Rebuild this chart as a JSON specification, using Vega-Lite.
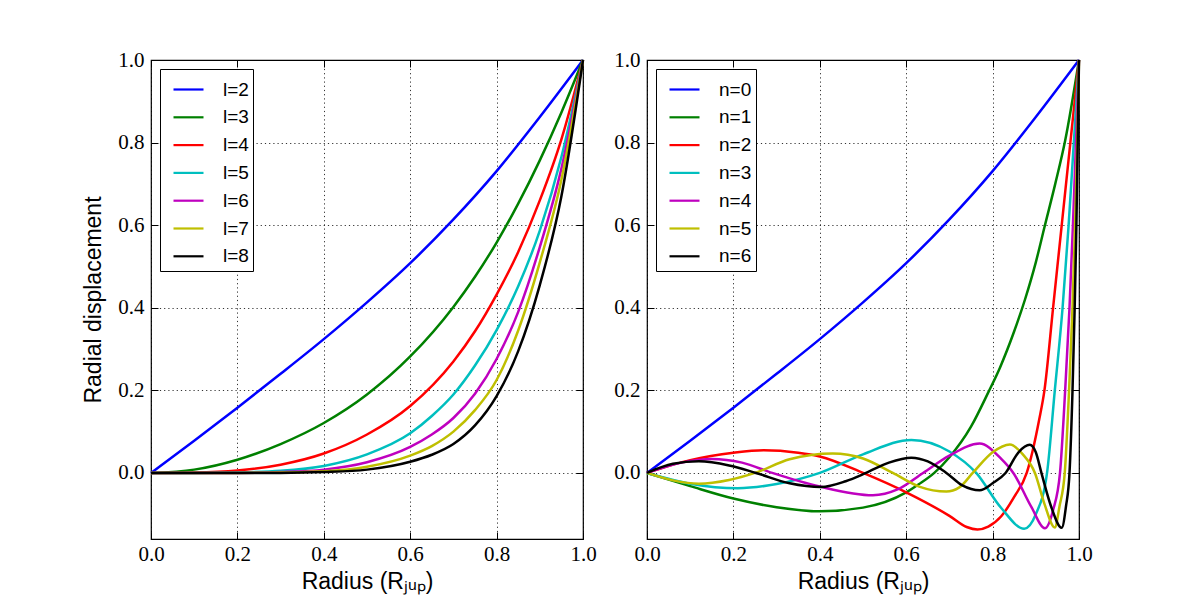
{
  "$schema": "https://vega.github.io/schema/vega-lite/v6.json",
  "padding": {"left": 82, "top": 48, "right": 5, "bottom": 5},
  "background": "white",
  "config": {
    "view": {"stroke": "black", "strokeWidth": 1.2},
    "axis": {
      "labelFont": "Liberation Serif", "labelFontSize": 21, "labelColor": "black", "labelFlush": false,
      "titleFont": "Liberation Sans", "titleFontSize": 23, "titleFontWeight": "normal", "titleColor": "black",
      "domain": false, "tickColor": "black", "tickSize": -7, "tickWidth": 1,
      "gridColor": "black", "gridDash": [1.2, 3], "gridWidth": 0.8, "gridOpacity": 1
    },
    "legend": {
      "labelFont": "Liberation Sans", "labelFontSize": 19, "labelColor": "black",
      "padding": 4, "strokeColor": "black", "fillColor": "white", "cornerRadius": 0,
      "offset": 9, "labelOffset": 18, "symbolOffset": 8, "symbolStrokeWidth": 2.2, "symbolSize": 900, "rowPadding": 0.8,
      "symbolType": "stroke"
    }
  },
  "datasets": {
    "left": [
      {"m":"l=2","r":0,"u":0},{"m":"l=2","r":0.1,"u":0.078},{"m":"l=2","r":0.2,"u":0.158},{"m":"l=2","r":0.3,"u":0.24},{"m":"l=2","r":0.4,"u":0.324},{"m":"l=2","r":0.5,"u":0.413},{"m":"l=2","r":0.6,"u":0.508},{"m":"l=2","r":0.7,"u":0.614},{"m":"l=2","r":0.8,"u":0.731},{"m":"l=2","r":0.9,"u":0.862},{"m":"l=2","r":1,"u":1},
      {"m":"l=3","r":0,"u":0},{"m":"l=3","r":0.1,"u":0.008},{"m":"l=3","r":0.2,"u":0.032},{"m":"l=3","r":0.3,"u":0.07},{"m":"l=3","r":0.4,"u":0.121},{"m":"l=3","r":0.5,"u":0.19},{"m":"l=3","r":0.6,"u":0.282},{"m":"l=3","r":0.7,"u":0.402},{"m":"l=3","r":0.75,"u":0.475},{"m":"l=3","r":0.8,"u":0.558},{"m":"l=3","r":0.85,"u":0.652},{"m":"l=3","r":0.9,"u":0.757},{"m":"l=3","r":0.95,"u":0.873},{"m":"l=3","r":1,"u":1},
      {"m":"l=4","r":0,"u":0},{"m":"l=4","r":0.1,"u":0.001},{"m":"l=4","r":0.2,"u":0.006},{"m":"l=4","r":0.3,"u":0.02},{"m":"l=4","r":0.4,"u":0.047},{"m":"l=4","r":0.5,"u":0.093},{"m":"l=4","r":0.6,"u":0.162},{"m":"l=4","r":0.7,"u":0.27},{"m":"l=4","r":0.75,"u":0.343},{"m":"l=4","r":0.8,"u":0.432},{"m":"l=4","r":0.85,"u":0.535},{"m":"l=4","r":0.9,"u":0.66},{"m":"l=4","r":0.95,"u":0.808},{"m":"l=4","r":1,"u":1},
      {"m":"l=5","r":0,"u":0},{"m":"l=5","r":0.1,"u":0},{"m":"l=5","r":0.2,"u":0.001},{"m":"l=5","r":0.3,"u":0.005},{"m":"l=5","r":0.4,"u":0.017},{"m":"l=5","r":0.5,"u":0.045},{"m":"l=5","r":0.6,"u":0.096},{"m":"l=5","r":0.65,"u":0.138},{"m":"l=5","r":0.7,"u":0.19},{"m":"l=5","r":0.75,"u":0.26},{"m":"l=5","r":0.8,"u":0.346},{"m":"l=5","r":0.85,"u":0.452},{"m":"l=5","r":0.9,"u":0.587},{"m":"l=5","r":0.95,"u":0.765},{"m":"l=5","r":1,"u":1},
      {"m":"l=6","r":0,"u":0},{"m":"l=6","r":0.2,"u":0},{"m":"l=6","r":0.3,"u":0.002},{"m":"l=6","r":0.4,"u":0.008},{"m":"l=6","r":0.5,"u":0.026},{"m":"l=6","r":0.6,"u":0.063},{"m":"l=6","r":0.65,"u":0.093},{"m":"l=6","r":0.7,"u":0.133},{"m":"l=6","r":0.75,"u":0.192},{"m":"l=6","r":0.8,"u":0.276},{"m":"l=6","r":0.85,"u":0.39},{"m":"l=6","r":0.9,"u":0.547},{"m":"l=6","r":0.95,"u":0.737},{"m":"l=6","r":1,"u":1},
      {"m":"l=7","r":0,"u":0},{"m":"l=7","r":0.2,"u":0},{"m":"l=7","r":0.3,"u":0.001},{"m":"l=7","r":0.4,"u":0.004},{"m":"l=7","r":0.5,"u":0.015},{"m":"l=7","r":0.6,"u":0.042},{"m":"l=7","r":0.65,"u":0.065},{"m":"l=7","r":0.7,"u":0.1},{"m":"l=7","r":0.75,"u":0.152},{"m":"l=7","r":0.8,"u":0.225},{"m":"l=7","r":0.85,"u":0.345},{"m":"l=7","r":0.9,"u":0.51},{"m":"l=7","r":0.95,"u":0.71},{"m":"l=7","r":1,"u":1},
      {"m":"l=8","r":0,"u":0},{"m":"l=8","r":0.3,"u":0},{"m":"l=8","r":0.4,"u":0.002},{"m":"l=8","r":0.5,"u":0.008},{"m":"l=8","r":0.6,"u":0.027},{"m":"l=8","r":0.65,"u":0.044},{"m":"l=8","r":0.7,"u":0.07},{"m":"l=8","r":0.75,"u":0.115},{"m":"l=8","r":0.8,"u":0.186},{"m":"l=8","r":0.85,"u":0.295},{"m":"l=8","r":0.9,"u":0.455},{"m":"l=8","r":0.95,"u":0.67},{"m":"l=8","r":1,"u":1}
    ],
    "right": [
      {"m":"n=0","r":0,"u":0},{"m":"n=0","r":0.1,"u":0.078},{"m":"n=0","r":0.2,"u":0.158},{"m":"n=0","r":0.3,"u":0.24},{"m":"n=0","r":0.4,"u":0.324},{"m":"n=0","r":0.5,"u":0.413},{"m":"n=0","r":0.6,"u":0.508},{"m":"n=0","r":0.7,"u":0.614},{"m":"n=0","r":0.8,"u":0.731},{"m":"n=0","r":0.9,"u":0.862},{"m":"n=0","r":1,"u":1},
      {"m":"n=1","r":0,"u":0},{"m":"n=1","r":0.1,"u":-0.032},{"m":"n=1","r":0.2,"u":-0.062},{"m":"n=1","r":0.3,"u":-0.083},{"m":"n=1","r":0.4,"u":-0.093},{"m":"n=1","r":0.5,"u":-0.084},{"m":"n=1","r":0.6,"u":-0.047},{"m":"n=1","r":0.63,"u":-0.027},{"m":"n=1","r":0.665,"u":0},{"m":"n=1","r":0.7,"u":0.038},{"m":"n=1","r":0.75,"u":0.112},{"m":"n=1","r":0.79,"u":0.195},{"m":"n=1","r":0.817,"u":0.255},{"m":"n=1","r":0.85,"u":0.343},{"m":"n=1","r":0.875,"u":0.42},{"m":"n=1","r":0.9,"u":0.51},{"m":"n=1","r":0.92,"u":0.595},{"m":"n=1","r":0.945,"u":0.7},{"m":"n=1","r":0.968,"u":0.805},{"m":"n=1","r":1,"u":1},
      {"m":"n=2","r":0,"u":0},{"m":"n=2","r":0.1,"u":0.031},{"m":"n=2","r":0.2,"u":0.049},{"m":"n=2","r":0.27,"u":0.055},{"m":"n=2","r":0.35,"u":0.049},{"m":"n=2","r":0.4,"u":0.04},{"m":"n=2","r":0.5,"u":0},{"m":"n=2","r":0.6,"u":-0.047},{"m":"n=2","r":0.7,"u":-0.104},{"m":"n=2","r":0.74,"u":-0.131},{"m":"n=2","r":0.765,"u":-0.137},{"m":"n=2","r":0.79,"u":-0.13},{"m":"n=2","r":0.82,"u":-0.105},{"m":"n=2","r":0.85,"u":-0.058},{"m":"n=2","r":0.879,"u":0},{"m":"n=2","r":0.908,"u":0.13},{"m":"n=2","r":0.92,"u":0.2},{"m":"n=2","r":0.94,"u":0.4},{"m":"n=2","r":0.96,"u":0.6},{"m":"n=2","r":0.98,"u":0.8},{"m":"n=2","r":1,"u":1},
      {"m":"n=3","r":0,"u":0},{"m":"n=3","r":0.1,"u":-0.026},{"m":"n=3","r":0.21,"u":-0.037},{"m":"n=3","r":0.3,"u":-0.027},{"m":"n=3","r":0.4,"u":0},{"m":"n=3","r":0.5,"u":0.045},{"m":"n=3","r":0.612,"u":0.08},{"m":"n=3","r":0.7,"u":0.052},{"m":"n=3","r":0.762,"u":0},{"m":"n=3","r":0.82,"u":-0.085},{"m":"n=3","r":0.873,"u":-0.135},{"m":"n=3","r":0.9,"u":-0.1},{"m":"n=3","r":0.926,"u":0},{"m":"n=3","r":0.944,"u":0.2},{"m":"n=3","r":0.962,"u":0.4},{"m":"n=3","r":0.976,"u":0.6},{"m":"n=3","r":0.988,"u":0.8},{"m":"n=3","r":1,"u":1},
      {"m":"n=4","r":0,"u":0},{"m":"n=4","r":0.08,"u":0.025},{"m":"n=4","r":0.15,"u":0.034},{"m":"n=4","r":0.22,"u":0.025},{"m":"n=4","r":0.29,"u":0},{"m":"n=4","r":0.4,"u":-0.033},{"m":"n=4","r":0.523,"u":-0.054},{"m":"n=4","r":0.58,"u":-0.04},{"m":"n=4","r":0.639,"u":0},{"m":"n=4","r":0.7,"u":0.042},{"m":"n=4","r":0.77,"u":0.071},{"m":"n=4","r":0.82,"u":0.034},{"m":"n=4","r":0.848,"u":0},{"m":"n=4","r":0.89,"u":-0.083},{"m":"n=4","r":0.921,"u":-0.134},{"m":"n=4","r":0.94,"u":-0.09},{"m":"n=4","r":0.956,"u":0},{"m":"n=4","r":0.968,"u":0.2},{"m":"n=4","r":0.978,"u":0.4},{"m":"n=4","r":0.986,"u":0.6},{"m":"n=4","r":0.993,"u":0.8},{"m":"n=4","r":1,"u":1},
      {"m":"n=5","r":0,"u":0},{"m":"n=5","r":0.06,"u":-0.018},{"m":"n=5","r":0.12,"u":-0.026},{"m":"n=5","r":0.19,"u":-0.017},{"m":"n=5","r":0.25,"u":0},{"m":"n=5","r":0.33,"u":0.033},{"m":"n=5","r":0.43,"u":0.047},{"m":"n=5","r":0.5,"u":0.035},{"m":"n=5","r":0.569,"u":0},{"m":"n=5","r":0.63,"u":-0.033},{"m":"n=5","r":0.693,"u":-0.045},{"m":"n=5","r":0.723,"u":-0.035},{"m":"n=5","r":0.754,"u":0},{"m":"n=5","r":0.8,"u":0.05},{"m":"n=5","r":0.84,"u":0.069},{"m":"n=5","r":0.87,"u":0.045},{"m":"n=5","r":0.898,"u":0},{"m":"n=5","r":0.92,"u":-0.075},{"m":"n=5","r":0.944,"u":-0.132},{"m":"n=5","r":0.955,"u":-0.08},{"m":"n=5","r":0.967,"u":0},{"m":"n=5","r":0.977,"u":0.2},{"m":"n=5","r":0.985,"u":0.4},{"m":"n=5","r":0.991,"u":0.6},{"m":"n=5","r":0.996,"u":0.8},{"m":"n=5","r":1,"u":1},
      {"m":"n=6","r":0,"u":0},{"m":"n=6","r":0.06,"u":0.022},{"m":"n=6","r":0.12,"u":0.028},{"m":"n=6","r":0.19,"u":0.018},{"m":"n=6","r":0.252,"u":0},{"m":"n=6","r":0.33,"u":-0.025},{"m":"n=6","r":0.403,"u":-0.034},{"m":"n=6","r":0.46,"u":-0.02},{"m":"n=6","r":0.507,"u":0},{"m":"n=6","r":0.56,"u":0.025},{"m":"n=6","r":0.612,"u":0.037},{"m":"n=6","r":0.65,"u":0.028},{"m":"n=6","r":0.693,"u":0},{"m":"n=6","r":0.73,"u":-0.03},{"m":"n=6","r":0.77,"u":-0.042},{"m":"n=6","r":0.8,"u":-0.025},{"m":"n=6","r":0.83,"u":0},{"m":"n=6","r":0.86,"u":0.05},{"m":"n=6","r":0.886,"u":0.068},{"m":"n=6","r":0.9,"u":0.05},{"m":"n=6","r":0.913,"u":0},{"m":"n=6","r":0.935,"u":-0.08},{"m":"n=6","r":0.96,"u":-0.133},{"m":"n=6","r":0.97,"u":-0.08},{"m":"n=6","r":0.978,"u":0},{"m":"n=6","r":0.985,"u":0.2},{"m":"n=6","r":0.99,"u":0.4},{"m":"n=6","r":0.994,"u":0.6},{"m":"n=6","r":0.997,"u":0.8},{"m":"n=6","r":1,"u":1}
    ]
  },
  "spacing": 16,
  "resolve": {"scale": {"color": "independent"}, "legend": {"color": "independent"}},
  "hconcat": [
    {
      "width": 432, "height": 479,
      "data": {"name": "left"},
      "resolve": {"axis": {"x": "independent", "y": "independent"}},
      "layer": [
        {
          "mark": {"type": "line", "strokeWidth": 2.5, "interpolate": "monotone"},
          "encoding": {
            "x": {"field": "r", "type": "quantitative", "scale": {"domain": [0, 1], "nice": false},
                  "axis": {"orient": "bottom", "title": "Radius (Rⱼᵤₚ)", "values": [0, 0.2, 0.4, 0.6, 0.8, 1], "format": ".1f", "labelPadding": 11, "titlePadding": 6, "grid": true}},
            "y": {"field": "u", "type": "quantitative", "scale": {"domain": [-0.16, 1], "nice": false, "zero": false},
                  "axis": {"orient": "left", "title": "Radial displacement", "values": [0, 0.2, 0.4, 0.6, 0.8, 1], "format": ".1f", "labelPadding": 14, "titlePadding": 12, "grid": true}},
            "color": {"field": "m", "type": "nominal",
                      "scale": {"domain": ["l=2","l=3","l=4","l=5","l=6","l=7","l=8"], "range": ["#0000ff","#008000","#ff0000","#00bfbf","#bf00bf","#bfbf00","#000000"]},
                      "legend": {"title": null, "orient": "top-left", "labelExpr": "datum.label + '\u2002'"}}
          }
        },
        {
          "mark": {"type": "line", "opacity": 0},
          "encoding": {
            "x": {"field": "r", "type": "quantitative", "scale": {"domain": [0, 1], "nice": false},
                  "axis": {"orient": "top", "title": null, "labels": false, "grid": false, "values": [0, 0.2, 0.4, 0.6, 0.8, 1]}},
            "y": {"field": "u", "type": "quantitative", "scale": {"domain": [-0.16, 1], "nice": false, "zero": false},
                  "axis": {"orient": "right", "title": null, "labels": false, "grid": false, "values": [0, 0.2, 0.4, 0.6, 0.8, 1]}},
            "detail": {"field": "m"}
          }
        }
      ]
    },
    {
      "width": 432, "height": 479,
      "data": {"name": "right"},
      "resolve": {"axis": {"x": "independent", "y": "independent"}},
      "layer": [
        {
          "mark": {"type": "line", "strokeWidth": 2.5, "interpolate": "monotone"},
          "encoding": {
            "x": {"field": "r", "type": "quantitative", "scale": {"domain": [0, 1], "nice": false},
                  "axis": {"orient": "bottom", "title": "Radius (Rⱼᵤₚ)", "values": [0, 0.2, 0.4, 0.6, 0.8, 1], "format": ".1f", "labelPadding": 11, "titlePadding": 6, "grid": true}},
            "y": {"field": "u", "type": "quantitative", "scale": {"domain": [-0.16, 1], "nice": false, "zero": false},
                  "axis": {"orient": "left", "title": null, "values": [0, 0.2, 0.4, 0.6, 0.8, 1], "format": ".1f", "labelPadding": 14, "grid": true}},
            "color": {"field": "m", "type": "nominal",
                      "scale": {"domain": ["n=0","n=1","n=2","n=3","n=4","n=5","n=6"], "range": ["#0000ff","#008000","#ff0000","#00bfbf","#bf00bf","#bfbf00","#000000"]},
                      "legend": {"title": null, "orient": "top-left", "labelExpr": "datum.label + '\u2002'"}}
          }
        },
        {
          "mark": {"type": "line", "opacity": 0},
          "encoding": {
            "x": {"field": "r", "type": "quantitative", "scale": {"domain": [0, 1], "nice": false},
                  "axis": {"orient": "top", "title": null, "labels": false, "grid": false, "values": [0, 0.2, 0.4, 0.6, 0.8, 1]}},
            "y": {"field": "u", "type": "quantitative", "scale": {"domain": [-0.16, 1], "nice": false, "zero": false},
                  "axis": {"orient": "right", "title": null, "labels": false, "grid": false, "values": [0, 0.2, 0.4, 0.6, 0.8, 1]}},
            "detail": {"field": "m"}
          }
        }
      ]
    }
  ]
}
